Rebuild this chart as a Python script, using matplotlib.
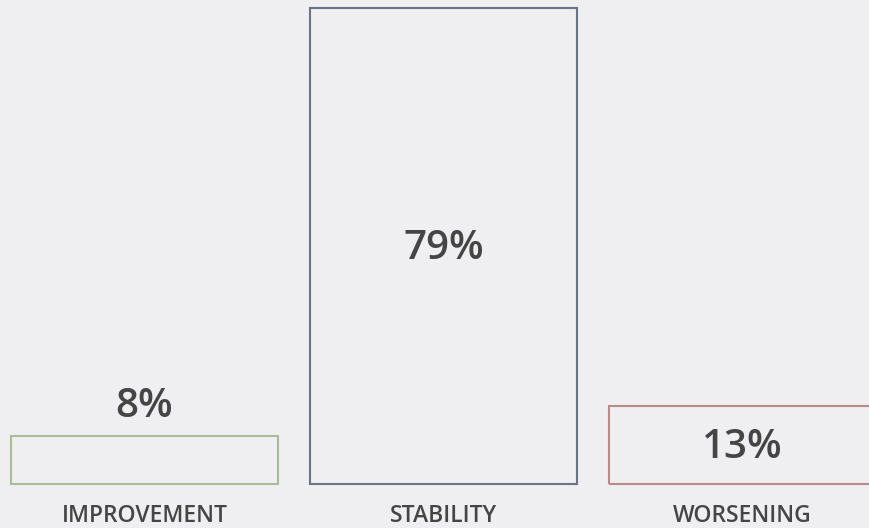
import matplotlib
matplotlib.use("Agg")
import matplotlib.pyplot as plt

categories = ["IMPROVEMENT", "STABILITY", "WORSENING"]
values = [8, 79, 13]
edge_colors = ["#a9bc95", "#6b7386", "#b98b87"]

BG = "#efeff1"
TXT = "#454545"
FONT = ["Open Sans", "DejaVu Sans"]

fig = plt.figure(figsize=(8.7, 5.28), dpi=100, facecolor=BG)
ax = fig.add_axes([0, 0, 1, 1])
ax.set_facecolor(BG)

x = list(range(len(categories)))
ax.bar(x, values, width=267 / 299, facecolor="none", edgecolor=edge_colors, linewidth=1.5)

ax.set_xlim(-144.5 / 299, (870 - 144.5) / 299)
ax.set_ylim(-44 / 6.03, 484 / 6.03)
ax.axis("off")

for xi, v, c in zip(x, values, categories):
    if v < 10:
        ax.annotate(f"{v}%", (xi, v), xytext=(0, 20.5), textcoords="offset points",
                    ha="center", va="center", fontsize=29, color=TXT,
                    family=FONT, fontweight="semibold")
    else:
        ax.annotate(f"{v}%", (xi, v / 2), xytext=(0, -2.5), textcoords="offset points",
                    ha="center", va="center", fontsize=29,
                    color=TXT, family=FONT, fontweight="semibold")
    ax.annotate(c, (xi, 0), xytext=(0, -23.3), textcoords="offset points",
                ha="center", va="center", fontsize=16.5, color=TXT,
                family=FONT, fontweight="semibold")

fig.savefig("out.png", dpi=100, facecolor=BG)
